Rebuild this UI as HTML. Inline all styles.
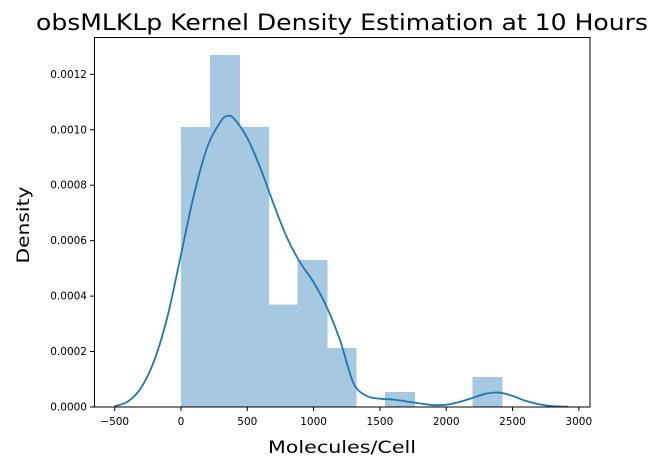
<!DOCTYPE html>
<html><head><meta charset="utf-8"><style>
body{margin:0;background:#fff;font-family:"Liberation Sans","DejaVu Sans",sans-serif}
svg text{font-family:"DejaVu Sans","Liberation Sans",sans-serif}
</style></head><body>
<svg id="chart" width="658" height="466" xmlns="http://www.w3.org/2000/svg">
<text x="342" y="30" font-size="22" textLength="612" lengthAdjust="spacingAndGlyphs" text-anchor="middle" fill="#000">obsMLKLp Kernel Density Estimation at 10 Hours</text>
<g id="bars" shape-rendering="crispEdges"></g>
<path id="kde" fill="none" stroke="#1f77b4" stroke-width="1.8"/>
<rect x="94.5" y="37.5" width="495.5" height="369.5" fill="none" stroke="#000" stroke-width="1"/>
<g id="xt"></g>
<g id="yt"></g>
<text x="342" y="453" font-size="17" textLength="148" lengthAdjust="spacingAndGlyphs" text-anchor="middle">Molecules/Cell</text>
<text transform="translate(29,225) rotate(-90)" font-size="17" textLength="77" lengthAdjust="spacingAndGlyphs" text-anchor="middle">Density</text>
</svg>
<script>
const binEdges=[0,220,440,660,880,1100,1320,1540,1760,1980,2200,2420];
const binHeights=[0.00101,0.00127,0.00101,0.00037,0.00053,0.000213,0,0.000054,0,0,0.000108];
const kdeX=[-500,-400,-300,-200,-100,0,100,200,300,350,400,500,600,700,800,900,1000,1100,1200,1300,1400,1500,1600,1700,1800,1900,2000,2100,2200,2300,2400,2500,2600,2700,2800,2920];
const kdeY=[0.000003,0.00002,0.00007,0.00017,0.00033,0.00055,0.00077,0.00094,0.00103,0.00105,0.00104,0.00097,0.00086,0.00073,0.00061,0.00052,0.00045,0.00036,0.00024,0.000087,0.00004,0.00003,0.000027,0.00002,0.000013,0.000007,0.000008,0.000018,0.000033,0.000048,0.000052,0.00004,0.000022,0.00001,0.000003,0.000001];
const xTicks=[-500,0,500,1000,1500,2000,2500,3000];
const yTicks=[0,0.0002,0.0004,0.0006,0.0008,0.001,0.0012];
const NS="http://www.w3.org/2000/svg";
const X=v=>181+v*66.3/500;
const Y=v=>407-v*55.45/0.0002;
const bars=document.getElementById('bars');
binHeights.forEach((h,i)=>{if(h<=0)return;
 const r=document.createElementNS(NS,'rect');
 
 
 r.setAttribute('x',X(binEdges[i]));r.setAttribute('width',X(binEdges[i+1])-X(binEdges[i])+0.5);
 r.setAttribute('y',Y(h));r.setAttribute('height',407-Y(h));
 r.setAttribute('fill','#a6c8e0');bars.appendChild(r);});
const pts=kdeX.map((x,i)=>[X(x),Y(kdeY[i])]);
let d='M'+pts[0][0]+','+pts[0][1];
for(let i=0;i<pts.length-1;i++){const p0=pts[Math.max(0,i-1)],p1=pts[i],p2=pts[i+1],p3=pts[Math.min(pts.length-1,i+2)];
 d+=' C'+(p1[0]+(p2[0]-p0[0])/6)+','+(p1[1]+(p2[1]-p0[1])/6)+' '+(p2[0]-(p3[0]-p1[0])/6)+','+(p2[1]-(p3[1]-p1[1])/6)+' '+p2[0]+','+p2[1];}
document.getElementById('kde').setAttribute('d',d);
const xt=document.getElementById('xt');
xTicks.forEach(t=>{const x=X(t);
 const l=document.createElementNS(NS,'line');
 
 
 l.setAttribute('x1',x);l.setAttribute('x2',x);l.setAttribute('y1',407);l.setAttribute('y2',411);l.setAttribute('stroke','#000');xt.appendChild(l);
 const s=document.createElementNS(NS,'text');
 
 
 s.setAttribute('x',x);s.setAttribute('y',425);s.setAttribute('font-size','10.5');s.setAttribute('text-anchor','middle');
 s.textContent=String(t).replace('-','\u2212');xt.appendChild(s);});
const yt=document.getElementById('yt');
yTicks.forEach(t=>{const y=Y(t);
 const l=document.createElementNS(NS,'line');
 
 
 l.setAttribute('x1',90);l.setAttribute('x2',94);l.setAttribute('y1',y);l.setAttribute('y2',y);l.setAttribute('stroke','#000');yt.appendChild(l);
 const s=document.createElementNS(NS,'text');
 
 
 s.setAttribute('x',87);s.setAttribute('y',y+3.5);s.setAttribute('font-size','10.5');s.setAttribute('text-anchor','end');
 s.textContent=t.toFixed(4);yt.appendChild(s);});
</script>
</body></html>
